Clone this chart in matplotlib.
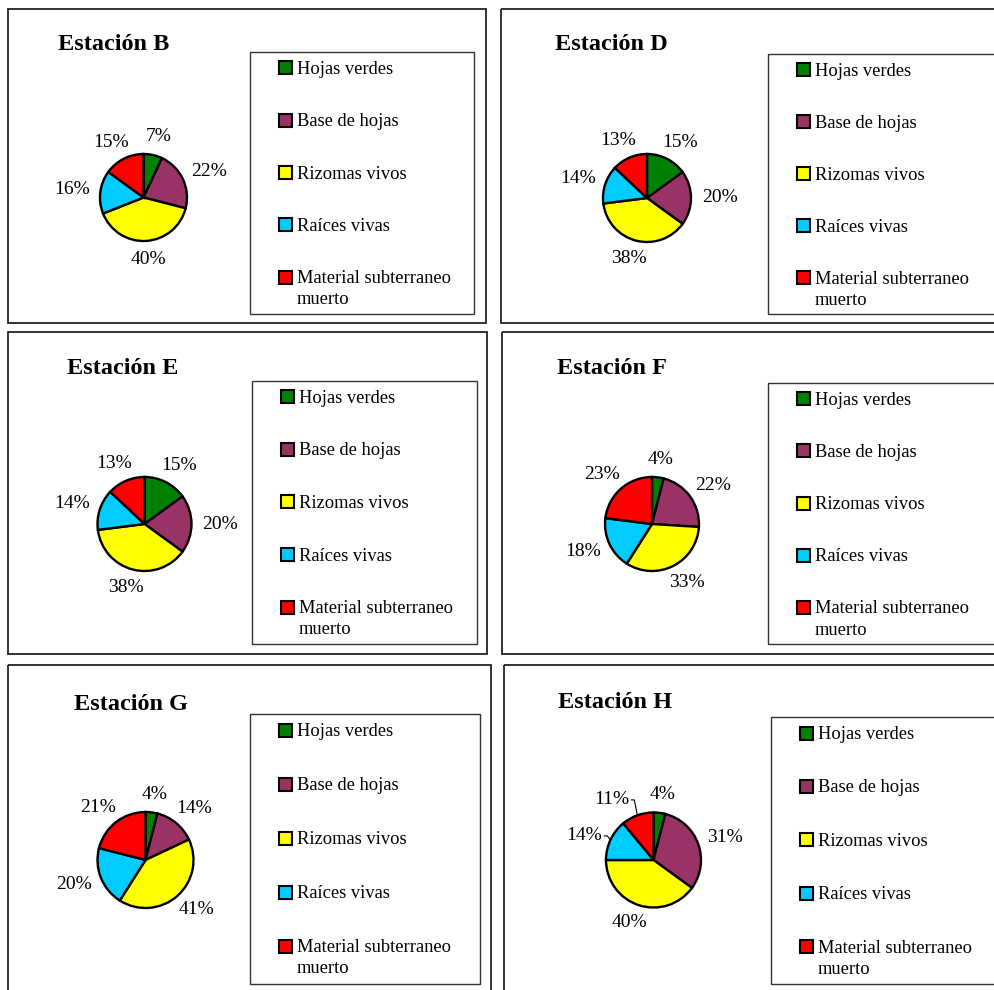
import numpy as np
import matplotlib
matplotlib.use("Agg")
import matplotlib.pyplot as plt
from matplotlib.patches import Rectangle

plt.rcParams['font.family'] = ['Liberation Serif', 'DejaVu Serif']

W, H = 995, 990

categories = ["Hojas verdes", "Base de hojas", "Rizomas vivos",
              "Raíces vivas", "Material subterraneo\nmuerto"]
colors = ["#008000", "#993366", "#FFFF00", "#00CCFF", "#FF0000"]

titles = ["Estación B", "Estación D", "Estación E",
          "Estación F", "Estación G", "Estación H"]
estacion_b = [7, 22, 40, 16, 15]
estacion_d = [15, 20, 38, 14, 13]
estacion_e = [15, 20, 38, 14, 13]
estacion_f = [4, 22, 33, 18, 23]
estacion_g = [4, 14, 41, 20, 21]
estacion_h = [4, 31, 40, 14, 11]
series = [estacion_b, estacion_d, estacion_e, estacion_f, estacion_g, estacion_h]

# panel geometry in pixels: frame, title anchor, pie centre/radius, legend box
panels = [
    dict(frame=(8, 9, 486, 323), title=(58, 44), pie=(143.5, 197.5, 43.5), legend=(250, 52, 474, 314)),
    dict(frame=(501, 9, 1010, 323), title=(555, 45), pie=(647, 198, 44), legend=(768, 54, 1010, 314)),
    dict(frame=(8, 332, 487, 654), title=(67, 368), pie=(144.5, 524, 47), legend=(252, 381, 477, 644)),
    dict(frame=(502, 332, 1010, 654), title=(557, 368), pie=(652, 524, 47), legend=(768, 383, 1010, 644)),
    dict(frame=(8, 665, 491, 1010), title=(74, 704), pie=(145.5, 860, 48), legend=(250, 714, 480, 984)),
    dict(frame=(504, 665, 1010, 1010), title=(558, 702), pie=(653.5, 860, 47.5), legend=(771, 717, 1010, 984)),
]

# manual nudges (px, +x right, +y down) and leader lines for crowded labels
label_nudge = {(5, 4): (-16, 2), (5, 3): (0, 4)}
leaders = {(5, 4), (5, 3)}

fig = plt.figure(figsize=(W / 100, H / 100), dpi=100)
fig.patch.set_facecolor("white")

# overlay axes in pixel coordinates for frames, titles and legends
ov = fig.add_axes([0, 0, 1, 1])
ov.set_xlim(0, W)
ov.set_ylim(H, 0)
ov.axis("off")

renderer = fig.canvas.get_renderer()

# distance from the top of a legend text box to its first baseline
LEG_FS = 13.3
probe = ov.text(100, 500, categories[0], fontsize=LEG_FS, va="baseline")
bb = probe.get_window_extent(renderer)
base_disp = ov.transData.transform((100, 500))[1]
asc = bb.y1 - base_disp
probe.remove()

SPAN = 2.3

for k, (p, vals, title) in enumerate(zip(panels, series, titles)):
    x0, y0, x1, y1 = p["frame"]
    ov.add_patch(Rectangle((x0, y0), x1 - x0, y1 - y0, fill=False,
                           edgecolor="#222222", linewidth=1.3))
    tx, ty = p["title"]
    ov.text(tx, ty, title, fontsize=17.5, fontweight="bold", ha="left", va="center")

    # legend
    lx0, ly0, lx1, ly1 = p["legend"]
    ov.add_patch(Rectangle((lx0, ly0), lx1 - lx0, ly1 - ly0, fill=False,
                           edgecolor="#333333", linewidth=1.0))
    lh = ly1 - ly0
    for i, (cat, col) in enumerate(zip(categories, colors)):
        yc = ly0 + lh * (0.06 + 0.2 * i)
        ov.add_patch(Rectangle((lx0 + 29, yc - 6.5), 13, 13, facecolor=col,
                               edgecolor="black", linewidth=1.5))
        ov.text(lx0 + 47, yc + 6 - asc, cat, fontsize=LEG_FS, ha="left",
                va="top", linespacing=1.32)

    # pie
    cx, cy, r = p["pie"]
    s = SPAN * r
    ax = fig.add_axes([(cx - s) / W, 1 - (cy + s) / H, 2 * s / W, 2 * s / H])
    ax.axis("off")
    ax.patch.set_alpha(0)
    ax.pie(vals, colors=colors, startangle=90, counterclock=False, radius=1,
           wedgeprops=dict(edgecolor="black", linewidth=1.7))
    ax.set_xlim(-SPAN, SPAN)
    ax.set_ylim(-SPAN, SPAN)
    ax.set_aspect("equal")

    total = float(sum(vals))
    cum = 0.0
    gap = 11.0
    for i, v in enumerate(vals):
        ang = np.deg2rad(90 - 360 * (cum + v / 2) / total)
        cum += v
        ux, uy = np.cos(ang), np.sin(ang)
        t = ax.text(0, 0, f"{v}%", fontsize=14, ha="center", va="center")
        bbt = t.get_window_extent(renderer)
        w, hh = bbt.width, 15.0
        px = (r + gap) * ux + w / 2 * ux
        py = (r + gap) * uy + hh / 2 * uy
        dx, dy = label_nudge.get((k, i), (0, 0))
        px += dx
        py -= dy
        t.set_position((px / r, py / r))
        if (k, i) in leaders:
            sx = px + w / 2 + 2
            ex, ey = r * ux, r * uy
            ax.plot([sx / r, (sx + 3) / r, ex / r], [py / r, py / r, ey / r],
                    color="black", linewidth=0.8, clip_on=False)

fig.savefig("out.png", dpi=100, facecolor="white")
